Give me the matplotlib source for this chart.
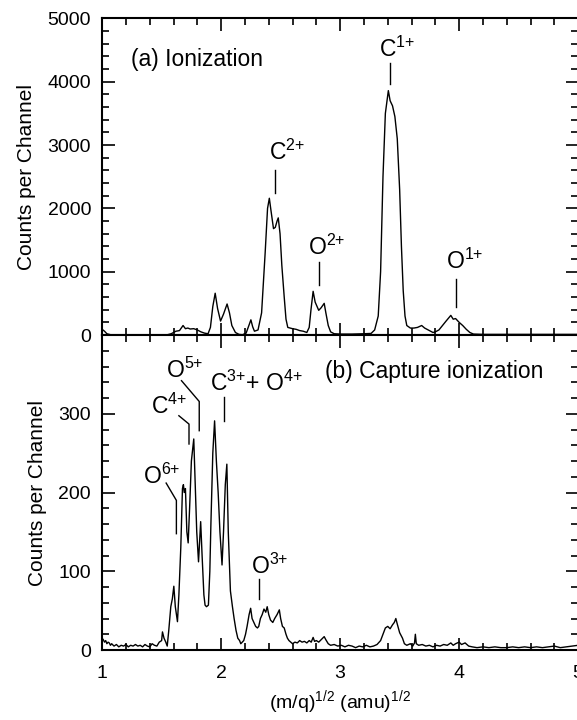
import matplotlib
matplotlib.use("Agg")
import matplotlib.pyplot as plt
from matplotlib.ticker import MultipleLocator

plt.rcParams['font.family'] = ['Liberation Sans', 'DejaVu Sans']
plt.rcParams['mathtext.default'] = 'regular'

# (a) ionization spectrum
x_ion = [1.00, 1.02, 1.04, 1.07, 1.2, 1.4, 1.55, 1.58, 1.62, 1.65, 1.68, 1.70, 1.72, 1.74, 1.77,
         1.80, 1.83, 1.86, 1.89, 1.91, 1.93, 1.95, 1.97, 1.995, 2.02, 2.05, 2.07, 2.09, 2.12, 2.15,
         2.18, 2.21, 2.235, 2.25, 2.265, 2.28, 2.31, 2.34, 2.37, 2.39, 2.405, 2.42, 2.44, 2.455,
         2.47, 2.48, 2.495, 2.51, 2.53, 2.545, 2.56, 2.60, 2.63, 2.66, 2.69, 2.72, 2.74, 2.755,
         2.773, 2.79, 2.82, 2.84, 2.866, 2.88, 2.90, 2.92, 2.95, 3.0, 3.1, 3.2, 3.26, 3.29, 3.32,
         3.34, 3.36, 3.38, 3.405, 3.42, 3.44, 3.46, 3.48, 3.50, 3.515, 3.53, 3.545, 3.56, 3.59,
         3.62, 3.65, 3.685, 3.71, 3.74, 3.78, 3.80, 3.83, 3.86, 3.89, 3.93, 3.95, 3.97, 4.0, 4.03,
         4.06, 4.09, 4.12, 4.2, 4.5, 4.8, 5.0]
y_ion = [90, 60, 20, 5, 3, 3, 5, 20, 60, 70, 150, 100, 110, 95, 100,
         80, 50, 30, 20, 120, 450, 660, 420, 220, 330, 490, 350, 150, 40, 10,
         5, 30, 160, 240, 130, 60, 80, 350, 1300, 2000, 2160, 1950, 1680, 1700,
         1800, 1850, 1600, 1100, 600, 250, 120, 100, 90, 70, 60, 40, 120, 400,
         690, 520, 390, 430, 500, 350, 150, 50, 20, 15, 15, 20, 25, 80, 300,
         1000, 2500, 3500, 3860, 3700, 3620, 3450, 3100, 2300, 1400, 700, 300, 150, 110,
         110, 120, 150, 110, 80, 40, 50, 80, 150, 220, 310, 250, 260, 200, 150,
         90, 40, 15, 10, 10, 10, 10]

# (b) capture ionization spectrum
x_cap = [1.00, 1.01, 1.02, 1.03, 1.04, 1.05, 1.06, 1.07, 1.08, 1.10, 1.12, 1.14, 1.16, 1.18, 1.20,
         1.22, 1.24, 1.26, 1.28, 1.30, 1.32, 1.34, 1.36, 1.38, 1.40, 1.42, 1.44, 1.46, 1.48, 1.50,
         1.507, 1.52, 1.535, 1.547, 1.56, 1.577, 1.59, 1.6025, 1.615, 1.633, 1.645, 1.661, 1.675,
         1.683, 1.69, 1.70, 1.712, 1.723, 1.735, 1.75, 1.77, 1.78, 1.795, 1.81, 1.82, 1.828, 1.84,
         1.855, 1.865, 1.877, 1.893, 1.905, 1.914, 1.93, 1.945, 1.96, 1.975, 1.99, 2.0075, 2.02,
         2.035, 2.048, 2.06, 2.078, 2.095, 2.109, 2.125, 2.14, 2.155, 2.165, 2.177, 2.19, 2.205,
         2.218, 2.235, 2.248, 2.26, 2.275, 2.29, 2.305, 2.316, 2.33, 2.345, 2.36, 2.375, 2.387,
         2.40, 2.415, 2.434, 2.45, 2.47, 2.489, 2.50, 2.515, 2.53, 2.545, 2.557, 2.57, 2.585, 2.60,
         2.62, 2.64, 2.66, 2.68, 2.70, 2.72, 2.74, 2.757, 2.773, 2.785, 2.80, 2.82, 2.84, 2.866,
         2.88, 2.90, 2.92, 2.95, 2.98, 3.01, 3.04, 3.07, 3.10, 3.13, 3.16, 3.19, 3.22, 3.25, 3.28,
         3.31, 3.34, 3.36, 3.38, 3.40, 3.42, 3.44, 3.455, 3.468, 3.48, 3.50, 3.524, 3.54, 3.56,
         3.59, 3.61, 3.625, 3.632, 3.64, 3.66, 3.69, 3.72, 3.75, 3.78, 3.81, 3.84, 3.87, 3.90,
         3.93, 3.95, 3.97, 4.00, 4.02, 4.05, 4.08, 4.11, 4.15, 4.2, 4.25, 4.3, 4.35, 4.4, 4.45,
         4.5, 4.55, 4.6, 4.65, 4.7, 4.75, 4.8, 4.85, 4.9, 4.95, 5.0]
y_cap = [15, 13, 10, 12, 8, 10, 9, 6, 8, 5, 7, 4, 6, 5, 7,
         4, 6, 5, 7, 5, 6, 4, 7, 5, 4, 8, 6, 5, 10, 12,
         23, 15, 10, 5, 25, 55, 65, 81, 55, 36, 70, 130, 205,
         210, 200, 205, 150, 136, 180, 240, 268, 220, 150, 112, 140, 163, 120,
         70, 57, 55, 57, 100, 160, 250, 291, 240, 200, 150, 108, 150,
         210, 236, 150, 75, 55, 40, 25, 15, 12, 8, 10, 12, 20,
         30, 45, 53, 40, 35, 30, 28, 30, 40, 45, 52, 48, 55,
         45, 38, 35, 40, 45, 51, 40, 30, 28, 20, 15, 12, 10, 8,
         10, 9, 12, 10, 11, 9, 12, 10, 16, 11, 12, 10, 13, 17,
         13, 8, 6, 7, 5, 6, 4, 6, 5, 3, 5, 4, 6, 4, 5,
         7, 12, 20, 28, 30, 27, 32, 35, 40, 33, 22, 15, 8, 6,
         8, 5, 9, 20, 8, 6, 7, 5, 6, 4, 6, 5, 7, 6,
         9, 6, 8, 10, 7, 9, 5, 4, 3, 4, 3, 4, 3, 3, 4,
         3, 4, 3, 4, 3, 4, 5, 3, 4, 5, 6]

fig = plt.figure(figsize=(5.77, 7.2), dpi=100)
ax1 = fig.add_axes([0.177, 0.5347, 0.825, 0.4397])
ax2 = fig.add_axes([0.177, 0.0972, 0.825, 0.4375])

for ax in (ax1, ax2):
    ax.set_xlim(1, 5)
    ax.xaxis.set_major_locator(MultipleLocator(1))
    ax.xaxis.set_minor_locator(MultipleLocator(0.2))
    ax.tick_params(which='both', direction='in', top=True, right=True, width=1.2, labelsize=14)
    ax.tick_params(axis='y', pad=8)
    ax.tick_params(axis='x', pad=11)
    ax.tick_params(which='major', length=9)
    ax.tick_params(which='minor', length=5)
    for s in ax.spines.values():
        s.set_linewidth(1.5)
    ax.set_ylabel('Counts per Channel', fontsize=15, labelpad=8)

ax1.plot(x_ion, y_ion, color='black', lw=1.0)
ax1.set_ylim(0, 5000)
ax1.yaxis.set_major_locator(MultipleLocator(1000))
ax1.yaxis.set_minor_locator(MultipleLocator(200))
ax1.tick_params(labelbottom=False)
ax1.text(1.24, 4350, '(a) Ionization', fontsize=16.5, va='center')

# peak labels in (a)
ax1.text(3.33, 4390, r'C$^{1{+}}$', fontsize=16.5)
ax1.plot([3.42, 3.42], [4290, 3970], color='black', lw=1)
ax1.text(2.40, 2760, r'C$^{2{+}}$', fontsize=16.5)
ax1.plot([2.45, 2.45], [2600, 2240], color='black', lw=1)
ax1.text(2.73, 1260, r'O$^{2{+}}$', fontsize=16.5)
ax1.plot([2.826, 2.826], [1150, 785], color='black', lw=1)
ax1.text(3.886, 1050, r'O$^{1{+}}$', fontsize=16.5)
ax1.plot([3.97, 3.97], [890, 440], color='black', lw=1)

ax2.plot(x_cap, y_cap, color='black', lw=1.0)
ax2.set_ylim(0, 400)
ax2.set_yticks([0, 100, 200, 300])
ax2.yaxis.set_minor_locator(MultipleLocator(20))
ax2.text(2.87, 346, '(b) Capture ionization', fontsize=16.5)
ax2.set_xlabel(r'(m/q)$^{1/2}$ (amu)$^{1/2}$', fontsize=14, labelpad=4)

# peak labels in (b)
ax2.text(1.54, 346, r'O$^{5{+}}$', fontsize=16.5)
ax2.plot([1.667, 1.816, 1.816], [342, 315.6, 278.5], color='black', lw=1)
ax2.text(1.414, 299.6, r'C$^{4{+}}$', fontsize=16.5)
ax2.plot([1.645, 1.73, 1.73], [297.5, 286.9, 261.6], color='black', lw=1)
ax2.text(1.908, 329, r'C$^{3{+}}$+ O$^{4{+}}$', fontsize=16.5)
ax2.plot([2.023, 2.023], [320.7, 291], color='black', lw=1)
ax2.text(1.346, 211, r'O$^{6{+}}$', fontsize=16.5)
ax2.plot([1.538, 1.624, 1.624], [212, 190, 147.7], color='black', lw=1)
ax2.text(2.248, 97, r'O$^{3{+}}$', fontsize=16.5)
ax2.plot([2.319, 2.319], [90.7, 65.4], color='black', lw=1)

plt.savefig('out.png', dpi=100)
